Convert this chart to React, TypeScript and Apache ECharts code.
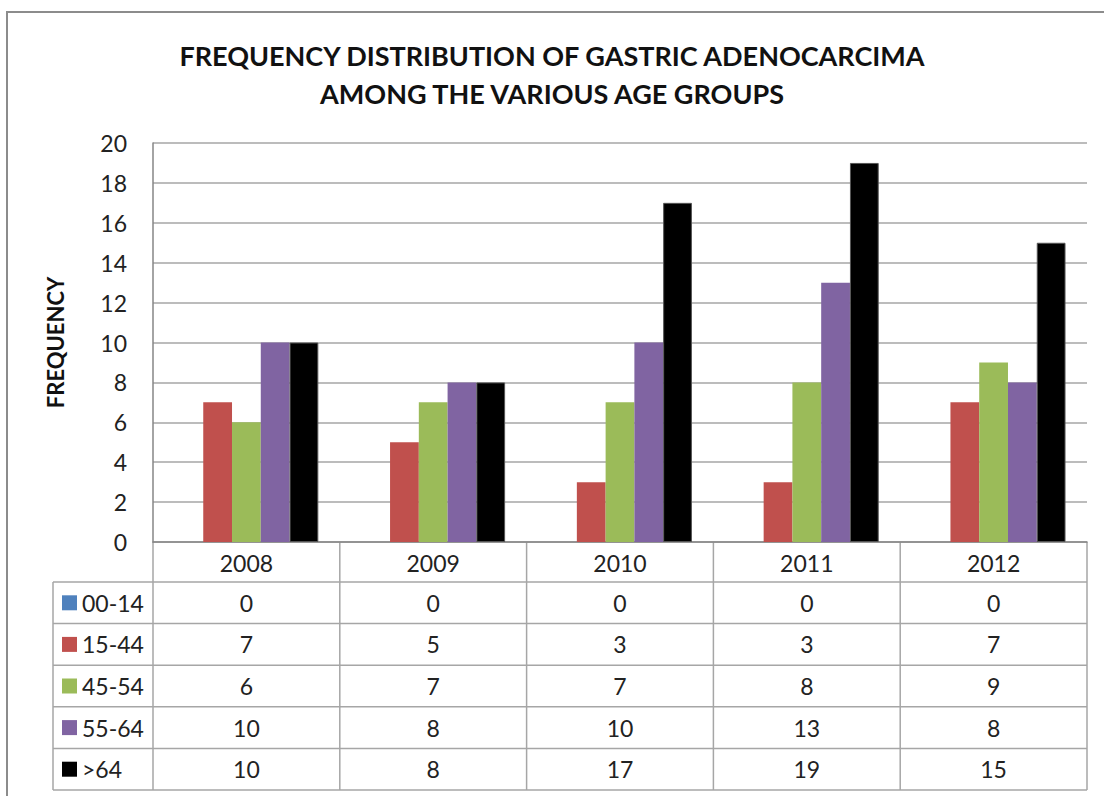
import React, { useEffect, useRef } from "react";
import * as echarts from "echarts";

const years = ["2008", "2009", "2010", "2011", "2012"];
const groupNames = ["00-14", "15-44", "45-54", "55-64", ">64"];
const g0014 = [0, 0, 0, 0, 0];
const g1544 = [7, 5, 3, 3, 7];
const g4554 = [6, 7, 7, 8, 9];
const g5564 = [10, 8, 10, 13, 8];
const g64 = [10, 8, 17, 19, 15];
const groupValues = [g0014, g1544, g4554, g5564, g64];
const groupColors = ["#4F81BD", "#C0504D", "#9BBB59", "#8064A2", "#000000"];
const yTicks = { min: 0, max: 20, interval: 2 };

const W = 1104;
const H = 796;
const PLOT_L = 153;
const PLOT_R = 1087;
const PLOT_T = 143;
const PLOT_B = 542;
const TABLE_L = 53;
const HEADER_B = 582;
const ROW_H = 41.6;
const FONT = "Lato, 'Open Sans', sans-serif";
const LINE = "#a6a6a6";
const FS = 23;

export default function App() {
  const ref = useRef<HTMLDivElement>(null);
  useEffect(() => {
    document.body.style.margin = "0";
    if (!ref.current) return;
    const chart = echarts.init(ref.current, undefined, { renderer: "svg" });
    const colW = (PLOT_R - PLOT_L) / years.length;
    const graphics: any[] = [];
    graphics.push({
      type: "polyline",
      shape: { points: [[7, H + 5], [7, 12], [W + 5, 12]] },
      style: { stroke: "#8c8c8c", lineWidth: 2, fill: null },
    });
    const tableB = HEADER_B + ROW_H * groupNames.length;
    for (let r = 0; r <= groupNames.length; r++) {
      const y = HEADER_B + r * ROW_H;
      graphics.push({
        type: "line",
        shape: { x1: TABLE_L, y1: y, x2: PLOT_R, y2: y },
        style: { stroke: LINE, lineWidth: 1.5 },
      });
    }
    for (let c = 0; c <= years.length; c++) {
      const x = PLOT_L + c * colW;
      graphics.push({
        type: "line",
        shape: { x1: x, y1: PLOT_B, x2: x, y2: tableB },
        style: { stroke: LINE, lineWidth: 1.5 },
      });
    }
    graphics.push({
      type: "line",
      shape: { x1: TABLE_L, y1: HEADER_B, x2: TABLE_L, y2: tableB },
      style: { stroke: LINE, lineWidth: 1.5 },
    });
    groupNames.forEach((name, r) => {
      const cy = HEADER_B + r * ROW_H + ROW_H / 2;
      graphics.push({
        type: "rect",
        shape: { x: 62, y: cy - 7.5, width: 15, height: 15 },
        style: { fill: groupColors[r] },
      });
      graphics.push({
        type: "text",
        style: {
          text: name,
          x: 82,
          y: cy,
          fontSize: FS,
          fontFamily: FONT,
          fill: "#222",
          verticalAlign: "middle",
          align: "left",
        },
      });
      groupValues[r].forEach((v, c) => {
        graphics.push({
          type: "text",
          style: {
            text: String(v),
            x: PLOT_L + c * colW + colW / 2,
            y: cy,
            fontSize: FS,
            fontFamily: FONT,
            fill: "#222",
            verticalAlign: "middle",
            align: "center",
          },
        });
      });
    });

    chart.setOption({
      animation: false,
      backgroundColor: "#ffffff",
      title: {
        text: "FREQUENCY DISTRIBUTION OF GASTRIC ADENOCARCIMA\nAMONG THE VARIOUS AGE GROUPS",
        left: "center",
        top: 31,
        textStyle: {
          fontFamily: FONT,
          fontWeight: "bold",
          fontSize: 27,
          lineHeight: 38,
          color: "#111",
        },
      },
      grid: {
        left: PLOT_L,
        right: W - PLOT_R,
        top: PLOT_T,
        bottom: H - PLOT_B,
      },
      xAxis: {
        type: "category",
        data: years,
        axisLine: { show: true, lineStyle: { color: "#868686", width: 1.5 } },
        axisTick: { show: false },
        axisLabel: { fontSize: FS, fontFamily: FONT, color: "#222", margin: 9 },
      },
      yAxis: {
        type: "value",
        min: yTicks.min,
        max: yTicks.max,
        interval: yTicks.interval,
        name: "FREQUENCY",
        nameLocation: "middle",
        nameGap: 87,
        nameRotate: 90,
        nameTextStyle: { fontFamily: FONT, fontWeight: "bold", fontSize: 22, color: "#111" },
        axisLine: { show: true, lineStyle: { color: "#868686", width: 1.5 } },
        axisTick: { show: false },
        splitLine: { lineStyle: { color: LINE, width: 1.5 } },
        axisLabel: { fontSize: FS, fontFamily: FONT, color: "#222", margin: 26 },
      },
      series: groupNames.map((name, i) => ({
        name,
        type: "bar",
        data: groupValues[i],
        barGap: "0%",
        barCategoryGap: "23%",
        itemStyle: {
          color: groupColors[i],
          borderColor: i === 4 ? "#555" : undefined,
          borderWidth: i === 4 ? 1 : 0,
        },
      })),
      graphic: graphics,
    });
    return () => chart.dispose();
  }, []);
  return <div ref={ref} style={{ width: W, height: H }} />;
}
